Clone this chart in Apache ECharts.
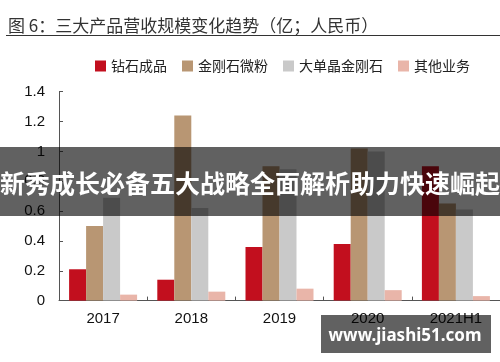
<!DOCTYPE html>
<html><head><meta charset="utf-8">
<script src="https://cdn.jsdelivr.net/npm/echarts@6/dist/echarts.min.js"></script>
<style>html,body{margin:0;padding:0;background:#fff}#c{width:500px;height:362px}</style>
</head><body><div id="c"></div>
<script>
const categories = ['2017', '2018', '2019', '2020', '2021H1'];
const seriesNames = ['钻石成品', '金刚石微粉', '大单晶金刚石', '其他业务'];
const diamondProducts = [0.21, 0.14, 0.36, 0.38, 0.90];
const micropowder = [0.50, 1.24, 0.90, 1.02, 0.65];
const largeCrystal = [0.69, 0.62, 0.88, 1.00, 0.61];
const otherBusiness = [0.04, 0.06, 0.08, 0.07, 0.03];
const yTicks = [0, 0.2, 0.4, 0.6, 0.8, 1, 1.2, 1.4];
const titleText = '图 6：三大产品营收规模变化趋势（亿；人民币）';
const bannerText = '新秀成长必备五大战略全面解析助力快速崛起';
const watermarkText = 'www.jiashi51.com';

const colors = ['#C20F1E', '#B89673', '#C9C9C9', '#E9B5A9'];
const values = [diamondProducts, micropowder, largeCrystal, otherBusiness];
const cjk = '"Noto Sans CJK SC", sans-serif';
const latin = '"Liberation Sans", Arial, sans-serif';

const chart = echarts.init(document.getElementById('c'), null, {renderer: 'canvas'});
chart.setOption({
  animation: false,
  color: colors,
  title: {
    text: titleText, left: 3, top: 12,
    textStyle: {fontFamily: cjk, fontSize: 17, fontWeight: 'normal', color: '#333'}
  },
  legend: {
    data: seriesNames, left: 90, top: 54,
    itemWidth: 11, itemHeight: 11, itemGap: 15, icon: 'rect',
    textStyle: {fontFamily: cjk, fontSize: 14, color: '#222'}
  },
  grid: {left: 59, top: 91.7, width: 450, height: 208.9, containLabel: false},
  xAxis: {
    type: 'category', data: categories,
    axisLine: {lineStyle: {color: '#555', width: 1}},
    axisTick: {show: true, inside: true, length: 4, alignWithLabel: false, lineStyle: {color: '#555'}},
    axisLabel: {fontFamily: latin, fontSize: 15, color: '#111', margin: 11}
  },
  yAxis: {
    type: 'value', min: yTicks[0], max: yTicks[yTicks.length - 1], interval: 0.2,
    axisLine: {show: true, lineStyle: {color: '#555', width: 1}},
    axisTick: {show: true, inside: true, length: 4, lineStyle: {color: '#555'}},
    splitLine: {show: false},
    axisLabel: {fontFamily: latin, fontSize: 15, color: '#111', margin: 14}
  },
  series: seriesNames.map((n, i) => ({
    name: n, type: 'bar', data: values[i], barWidth: 17, barGap: '0%',
    itemStyle: {color: colors[i]}
  })),
  graphic: [
    {type: 'line', z: 50, shape: {x1: 6, y1: 35.5, x2: 500, y2: 35.5}, style: {stroke: '#333', lineWidth: 1}},
    {type: 'rect', z: 100, shape: {x: 0, y: 147, width: 500, height: 69}, style: {fill: 'rgba(0,0,0,0.62)'}},
    {type: 'text', z: 101, x: 250, y: 183,
      style: {text: bannerText, fill: '#fff', align: 'center', verticalAlign: 'middle', font: 'bold 25px "Noto Sans CJK SC", sans-serif'}},
    {type: 'rect', z: 100, shape: {x: 321, y: 315, width: 170, height: 38}, style: {fill: 'rgba(0,0,0,0.62)'}},
    {type: 'text', z: 101, x: 405, y: 336,
      style: {text: watermarkText, fill: '#fff', align: 'center', verticalAlign: 'middle', font: 'bold 17px "Noto Sans", sans-serif'}}
  ]
});
</script></body></html>
